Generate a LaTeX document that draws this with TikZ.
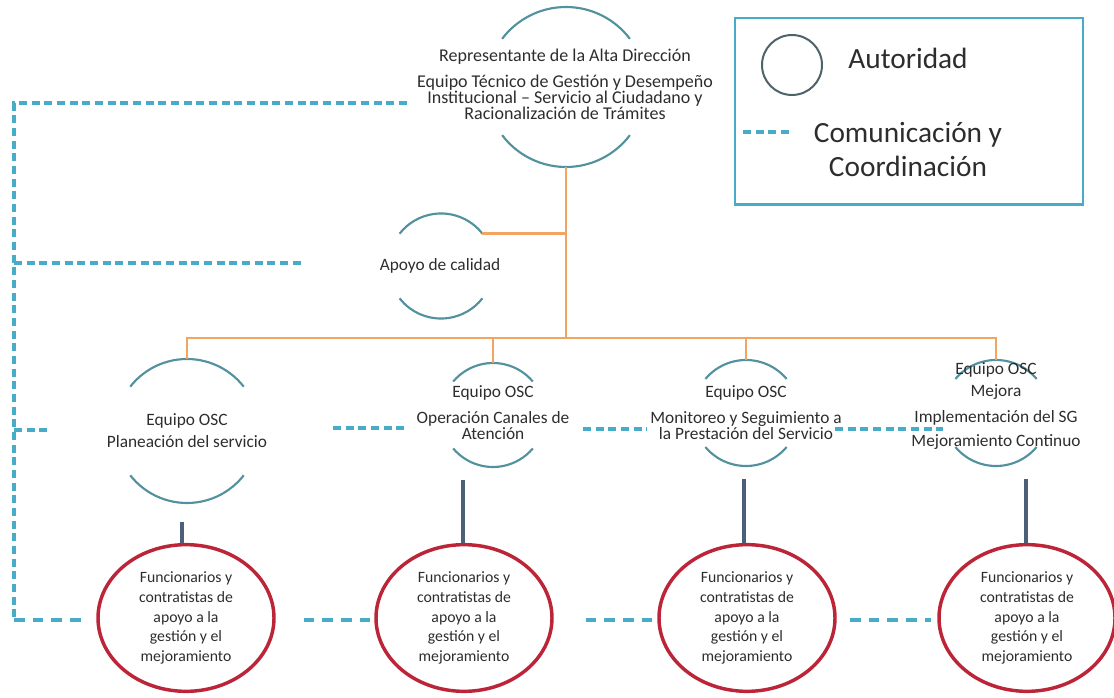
\documentclass[tikz,border=0pt]{standalone}
\usepackage{fontspec}
\setmainfont{Carlito}
\usetikzlibrary{shapes.geometric}
\definecolor{arcc}{RGB}{82,145,158}
\definecolor{orangec}{RGB}{242,165,98}
\definecolor{dashc}{RGB}{72,172,200}
\definecolor{stemc}{RGB}{76,96,122}
\definecolor{redc}{RGB}{188,36,56}
\definecolor{legc}{RGB}{78,98,106}
\definecolor{txt}{RGB}{45,45,45}
\newcommand\arcpair[4]{%
  \draw[arcline] (#1.#2) arc[start angle=#2,end angle=#3,radius=#4];
  \draw[arcline] (#1.-#3) arc[start angle=-#3,end angle=-#2,radius=#4];}
\begin{document}
\begin{tikzpicture}[x=0.75pt,y=0.75pt,
  arcline/.style={draw=arcc,line width=1.6pt},
  ring/.style={circle,inner sep=0pt,outer sep=0pt,minimum size=#1},
  lbl/.style={align=center,font=\fontsize{13}{12}\selectfont,text=txt,inner sep=1pt},
  orgline/.style={draw=orangec,line width=2.2pt},
  stem/.style={draw=stemc,line width=2.4pt},
  comm/.style={draw=dashc,line width=2.6pt,dash pattern=on 6pt off 3.5pt},
  commw/.style={draw=dashc,line width=2.6pt,dash pattern=on 8pt off 6pt},
  staff/.style={ellipse,draw=redc,line width=2.6pt,minimum width=132pt,minimum height=110pt,inner sep=0pt,align=center,text=txt,font=\fontsize{11.8}{14.8}\selectfont},
  legtxt/.style={align=center,text=txt,font=\fontsize{22}{26}\selectfont,inner sep=0pt}
]
\useasboundingbox (0,0) rectangle (1114,-698);
% ---- authority rings (invisible circle nodes) ----
\node[ring=120pt]  (topc) at (566,-87) {};
\node[ring=78.8pt] (apc)  at (441,-266) {};
\node[ring=108pt]  (p1c)  at (187,-431) {};
\node[ring=78pt]   (p2c)  at (493,-415) {};
\node[ring=79.5pt] (p3c)  at (746,-413) {};
\node[ring=79.5pt] (p4c)  at (996,-413) {};
\arcpair{topc}{37}{143}{60pt}
\arcpair{apc}{38}{142}{39.4pt}
\arcpair{p1c}{38}{142}{54pt}
\arcpair{p2c}{40}{140}{39pt}
\arcpair{p3c}{40}{140}{39.75pt}
\arcpair{p4c}{40}{140}{39.75pt}
% ---- texts ----
\node[lbl,font=\fontsize{13.5}{12}\selectfont] (topt) at (565,-84) {Representante de la Alta Dirección\\[7.5pt]
  Equipo Técnico de Gestión y Desempeño\\Institucional – Servicio al Ciudadano y\\Racionalización de Trámites};
\node[lbl] (apt) at (440,-266) {Apoyo de calidad};
\node[lbl] (p1t) at (187,-431) {Equipo OSC\\[4.5pt]Planeación del servicio};
\node[lbl] (p2t) at (493,-413) {Equipo OSC\\[7.5pt]Operación Canales de\\Atención};
\node[lbl] (p3t) at (746,-413) {Equipo OSC\\[7.5pt]Monitoreo y Seguimiento a\\la Prestación del Servicio};
\node[lbl] (p4t) at (996,-406) {Equipo OSC\\[4.5pt]Mejora\\[7.5pt]Implementación del SG\\[6pt]Mejoramiento Continuo};
% ---- staff ellipses ----
\node[staff] (e1) at (186,-618) {Funcionarios y\\contratistas de\\apoyo a la\\gestión y el\\mejoramiento};
\node[staff] (e2) at (464,-618) {Funcionarios y\\contratistas de\\apoyo a la\\gestión y el\\mejoramiento};
\node[staff] (e3) at (747,-618) {Funcionarios y\\contratistas de\\apoyo a la\\gestión y el\\mejoramiento};
\node[staff] (e4) at (1027,-618) {Funcionarios y\\contratistas de\\apoyo a la\\gestión y el\\mejoramiento};
% ---- authority lines (orange) ----
\coordinate (bus) at (567,-338);
\draw[orgline] (topc.south) -- (topc.south |- bus);
\draw[orgline] (apc.38) -- (apc.38 -| bus);
\draw[orgline] (p1c.north) |- (bus) -| (p4c.north);
\draw[orgline] (p2c.north) -- (p2c.north |- bus);
\draw[orgline] (p3c.north) -- (p3c.north |- bus);
% ---- stems to staff ----
\draw[stem] ([xshift=-3.75pt,yshift=-14pt]p1c.south) -- ([xshift=-3.75pt]p1c.south |- e1.north);
\draw[stem] ([xshift=-22.5pt,yshift=-9.75pt]p2c.south) -- ([xshift=-22.5pt]p2c.south |- e2.north);
\draw[stem] ([xshift=-1.5pt,yshift=-9.75pt]p3c.south) -- ([xshift=-1.5pt]p3c.south |- e3.north);
\draw[stem] ([xshift=22.5pt,yshift=-9.75pt]p4c.south) -- ([xshift=22.5pt]p4c.south |- e4.north);
% ---- communication lines (dashed) ----
\coordinate (k1) at (14,-103);
\coordinate (k2) at (14,-620);
\coordinate (dtop) at (407,-103);
\coordinate (dap) at (305,-263);
\coordinate (dp1) at (48,-430);
\coordinate (n12a) at (333,-428);
\coordinate (n12b) at (408,-428);
\coordinate (n23a) at (583,-429);
\coordinate (n23b) at (647,-429);
\coordinate (n34a) at (835,-429);
\coordinate (n34b) at (943,-429);
\draw[comm] (dtop) -- (k1) -- (k2);
\draw[commw] (k2) -- ([xshift=-8pt]e1.west |- k2);
\draw[comm] (dap -| k1) -- (dap);
\draw[comm] (dp1 -| k1) -- (dp1);
\draw[comm] (n12a) -- (n12b);
\draw[comm] (n23a) -- (n23b);
\draw[comm] (n34a) -- (n34b);
\draw[commw] ([xshift=21pt]e1.east |- k2) -- (e2.west |- k2);
\draw[commw] ([xshift=24pt]e2.east |- k2) -- (e3.west |- k2);
\draw[commw] ([xshift=10pt]e3.east |- k2) -- ([xshift=-5pt]e4.west |- k2);
% ---- legend ----
\node[draw=dashc,line width=2pt,minimum width=261pt,minimum height=140pt,inner sep=0pt] (leg) at (909,-111.5) {};
\node[circle,draw=legc,line width=1.5pt,minimum size=45pt,inner sep=0pt] (legcirc) at (792,-65) {};
\node[legtxt] (legaut) at (908,-58) {Autoridad};
\coordinate (legd1) at (743,-132);
\coordinate (legd2) at (792,-132);
\draw[comm] (legd1) -- (legd2);
\node[legtxt] (legcom) at (908,-149.5) {Comunicación y\\Coordinación};
\end{tikzpicture}
\end{document}
